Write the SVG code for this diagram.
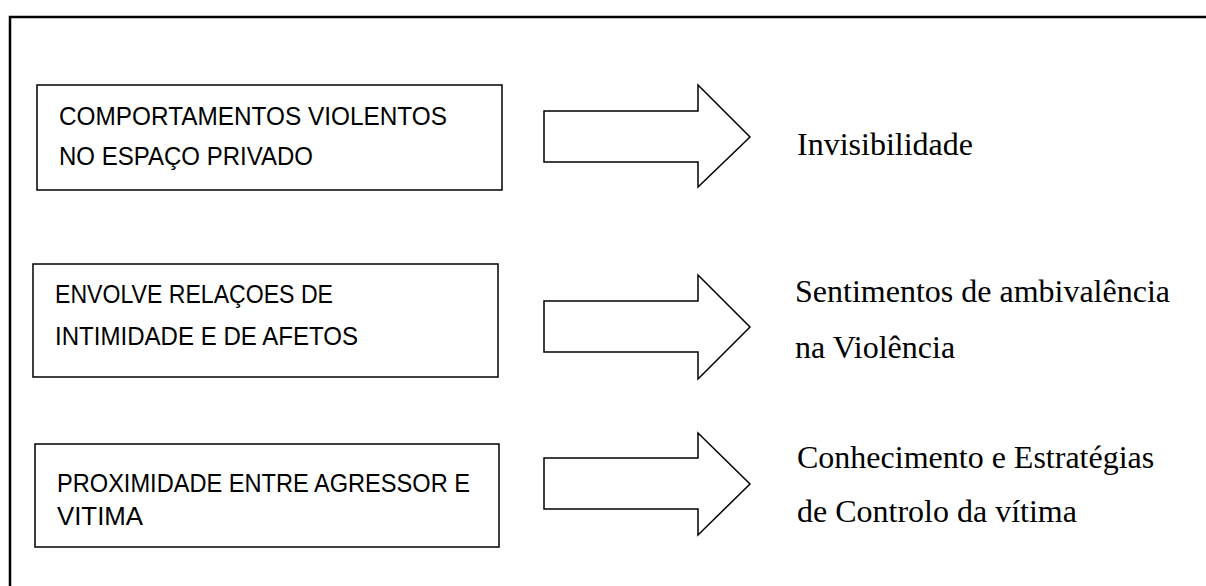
<svg xmlns="http://www.w3.org/2000/svg" width="1206" height="586" viewBox="0 0 1206 586">
<style>
.frame{fill:none;stroke:#000;stroke-width:2.5}
.box{fill:#fff;stroke:#000;stroke-width:1.5}
.arrow{fill:#fff;stroke:#000;stroke-width:1.5;stroke-linejoin:miter}
.lt{font-family:"Liberation Sans",Arial,sans-serif;font-size:25.5px;fill:#000}
.rt{font-family:"Liberation Serif","Times New Roman",serif;font-size:32px;fill:#000}
</style>
<rect width="1206" height="586" fill="#fff"/>
<path class="frame" d="M10,586 V17 H1206"/>
<g id="box1">
<rect class="box" x="37" y="85" width="465" height="105"/>
<text class="lt" x="59" y="125" textLength="388" lengthAdjust="spacingAndGlyphs">COMPORTAMENTOS VIOLENTOS</text>
<text class="lt" x="59" y="165" textLength="254" lengthAdjust="spacingAndGlyphs">NO ESPAÇO PRIVADO</text>
</g>
<g id="box2">
<rect class="box" x="33" y="264" width="465" height="113"/>
<text class="lt" x="55" y="303" textLength="278" lengthAdjust="spacingAndGlyphs">ENVOLVE RELAÇOES DE</text>
<text class="lt" x="55" y="345" textLength="303" lengthAdjust="spacingAndGlyphs">INTIMIDADE E DE AFETOS</text>
</g>
<g id="box3">
<rect class="box" x="35" y="444" width="464" height="103"/>
<text class="lt" x="57" y="492" textLength="413" lengthAdjust="spacingAndGlyphs">PROXIMIDADE ENTRE AGRESSOR E</text>
<text class="lt" x="57" y="525" textLength="86" lengthAdjust="spacingAndGlyphs">VITIMA</text>
</g>
<g id="out1">
<text class="rt" x="797" y="155">Invisibilidade</text>
</g>
<g id="out2">
<text class="rt" x="795" y="302">Sentimentos de ambivalência</text>
<text class="rt" x="795" y="358">na Violência</text>
</g>
<g id="out3">
<text class="rt" x="797" y="468">Conhecimento e Estratégias</text>
<text class="rt" x="797" y="522">de Controlo da vítima</text>
</g>
<g id="connectors">
<path class="arrow" d="M544,111 H698 V85 L750,137 L698,187 V162 H544 Z"/>
<path class="arrow" d="M544,301 H698 V275 L750,327 L698,379 V352 H544 Z"/>
<path class="arrow" d="M544,458 H698 V433 L750,484 L698,535 V509 H544 Z"/>
</g>
</svg>
